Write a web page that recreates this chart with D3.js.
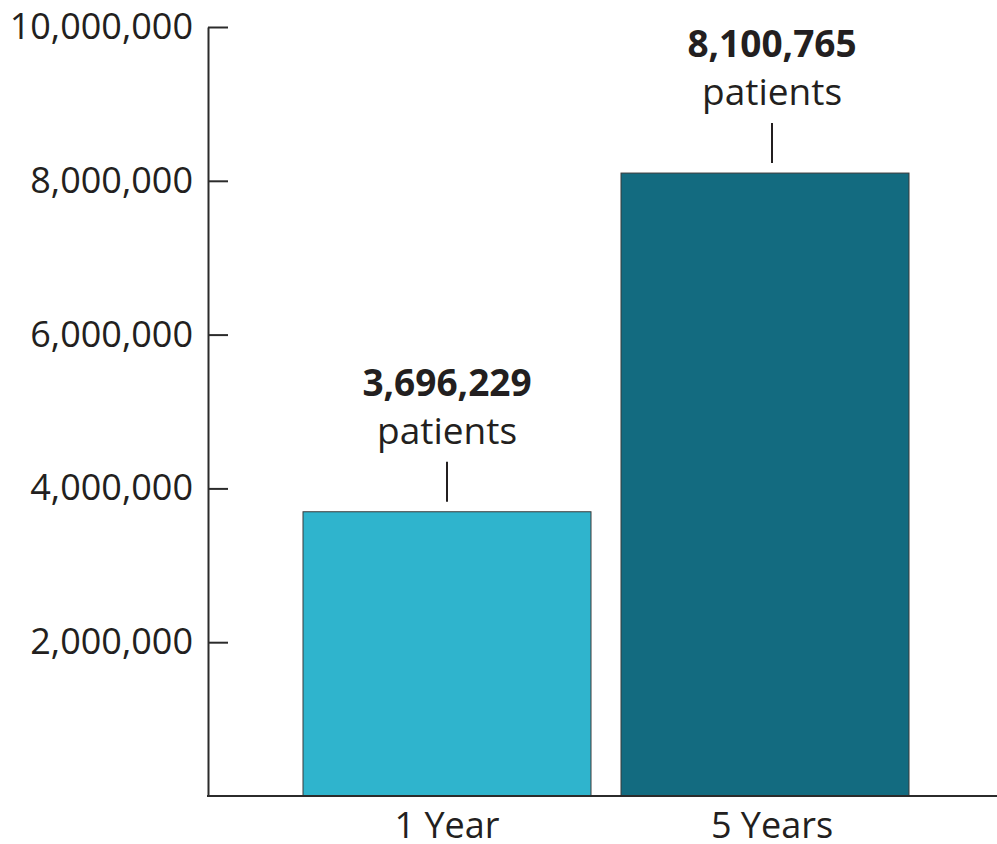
<!DOCTYPE html>
<html>
<head>
<meta charset="utf-8">
<script src="https://cdn.jsdelivr.net/npm/d3@7"></script>
<style>
  body { margin: 0; background: #fff; }
  svg { display: block; font-family: "Open Sans", sans-serif; }
  .axis path, .axis line { stroke: #2b2b2b; stroke-width: 2; }
  .axis text { font-family: "Open Sans", sans-serif; font-size: 36px; fill: #231f20; }
</style>
</head>
<body>
<svg id="chart" viewBox="0 0 997 844" width="997" height="844"></svg>
<script>
const categories = ["1 Year", "5 Years"];
const patientCounts = [3696229, 8100765];
const barColors = ["#2fb4cd", "#136b80"];
const yTickValues = [2000000, 4000000, 6000000, 8000000, 10000000];

function renderBarChart(svg) {
  const root = d3.select(svg);
  root.selectAll("*").remove();

  const width = svg.viewBox.baseVal.width;
  const axisX = 208;
  const baseY = 796;
  const topY = 27;

  const yScale = d3.scaleLinear()
    .domain([0, 10000000])
    .range([baseY, topY]);

  const xScale = d3.scaleBand()
    .domain(categories)
    .range([303, 909])
    .paddingInner(30 / 318)
    .paddingOuter(0);

  const rows = categories.map((name, index) => ({ name, index, value: patientCounts[index], color: barColors[index] }));
  // the text column of the second bar sits a little right of the bar centre in the original
  const labelX = row => xScale(row.name) + xScale.bandwidth() / 2 + (row.index === 1 ? 7 : 0);

  root.append("g")
    .selectAll("rect")
    .data(rows)
    .join("rect")
    .attr("x", row => xScale(row.name))
    .attr("y", row => yScale(row.value))
    .attr("width", xScale.bandwidth())
    .attr("height", row => baseY - yScale(row.value))
    .attr("fill", row => row.color)
    .attr("stroke", "#3a3a3a")
    .attr("stroke-width", 1);

  // y axis: ticks point into the plot, labels on the left
  root.append("g")
    .attr("class", "axis axis-y")
    .attr("transform", `translate(${axisX}, 0)`)
    .call(d3.axisLeft(yScale)
      .tickValues(yTickValues)
      .tickFormat(d3.format(","))
      .tickSizeInner(-20)
      .tickSizeOuter(0)
      .tickPadding(15));

  root.append("line")
    .attr("x1", axisX - 1)
    .attr("x2", width)
    .attr("y1", baseY)
    .attr("y2", baseY)
    .attr("stroke", "#2b2b2b")
    .attr("stroke-width", 2);

  root.append("g")
    .selectAll("text")
    .data(rows)
    .join("text")
    .attr("x", labelX)
    .attr("y", 838)
    .attr("text-anchor", "middle")
    .attr("font-size", 36)
    .attr("fill", "#231f20")
    .text(row => row.name);

  const labels = root.append("g")
    .selectAll("g")
    .data(rows)
    .join("g")
    .attr("transform", row => `translate(${labelX(row)}, ${yScale(row.value)})`);

  labels.append("text")
    .attr("y", -116)
    .attr("text-anchor", "middle")
    .attr("font-size", 37)
    .attr("font-weight", "bold")
    .attr("fill", "#231f20")
    .text(row => d3.format(",")(row.value));

  labels.append("text")
    .attr("y", -68)
    .attr("text-anchor", "middle")
    .attr("font-size", 37)
    .attr("fill", "#231f20")
    .text("patients");

  labels.append("line")
    .attr("y1", -50)
    .attr("y2", -10)
    .attr("stroke", "#231f20")
    .attr("stroke-width", 2);
}

renderBarChart(document.getElementById("chart"));
</script>
</body>
</html>
